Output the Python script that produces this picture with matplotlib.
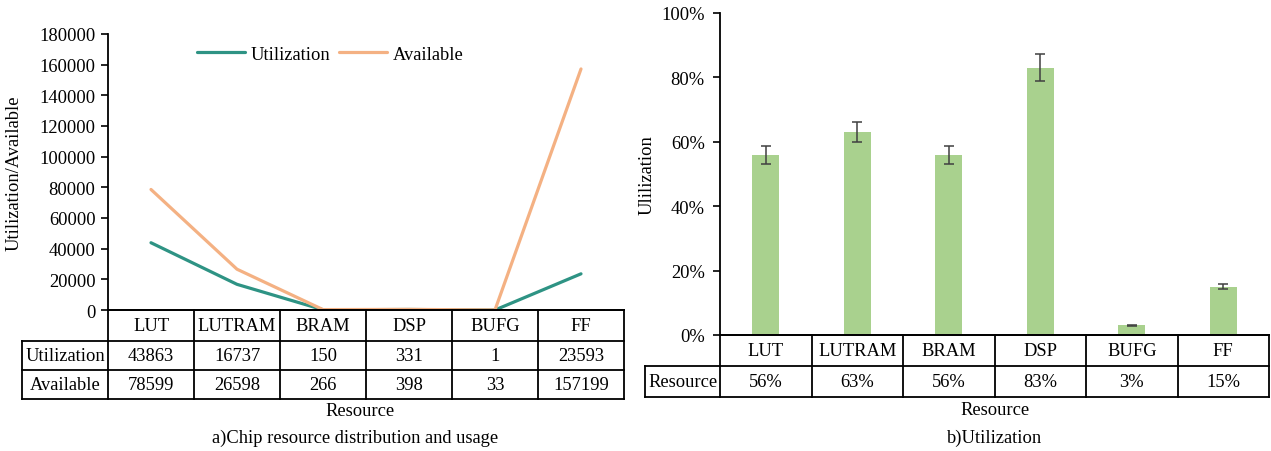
import matplotlib
matplotlib.use("Agg")
import matplotlib.pyplot as plt
from matplotlib.transforms import blended_transform_factory

plt.rcParams["font.family"] = ["Liberation Serif", "DejaVu Serif"]

# ---- data -------------------------------------------------------------
resources = ["LUT", "LUTRAM", "BRAM", "DSP", "BUFG", "FF"]
utilization = [43863, 16737, 150, 331, 1, 23593]
available = [78599, 26598, 266, 398, 33, 157199]
util_pct = [56, 63, 56, 83, 3, 15]
util_err = [2.8, 3.1, 2.8, 4.2, 0.2, 0.8]
left_yticks = [0, 20000, 40000, 60000, 80000, 100000, 120000, 140000, 160000, 180000]
right_yticks = [0, 20, 40, 60, 80, 100]

TEAL = "#2E9384"
ORANGE = "#F4B183"
GREEN = "#A9D18E"
FS = 13.3

W, H = 1271, 452
fig = plt.figure(figsize=(W / 100, H / 100), dpi=100)


def px_axes(x0, x1, ytop, ybot):
    return fig.add_axes([x0 / W, (H - ybot) / H, (x1 - x0) / W, (ybot - ytop) / H])


def draw_table(ax, ybot_px, ytop_px, rows_px, row_names, row_values, label_w):
    """Table under the axis: header row of categories, then data rows."""
    ax_h = ybot_px - ytop_px
    to_ax = lambda ypx: (ybot_px - ypx) / ax_h
    tr = blended_transform_factory(ax.transData, ax.transAxes)
    n = len(resources)
    kw = dict(transform=tr, clip_on=False, color="black", lw=1.3, solid_capstyle="projecting")
    y_ax = [to_ax(y) for y in rows_px]
    # horizontal rules
    ax.plot([-0.5, n - 0.5], [y_ax[0], y_ax[0]], **kw)
    for y in y_ax[1:]:
        ax.plot([-0.5 - label_w, n - 0.5], [y, y], **kw)
    # vertical rules
    for i in range(n + 1):
        ax.plot([-0.5 + i, -0.5 + i], [y_ax[0], y_ax[-1]], **kw)
    ax.plot([-0.5 - label_w, -0.5 - label_w], [y_ax[1], y_ax[-1]], **kw)
    # header text
    yc = (y_ax[0] + y_ax[1]) / 2
    for i, r in enumerate(resources):
        ax.text(i, yc, r, transform=tr, ha="center", va="center", fontsize=FS, clip_on=False)
    for k, (name, vals) in enumerate(zip(row_names, row_values)):
        yc = (y_ax[k + 1] + y_ax[k + 2]) / 2
        ax.text(-0.5 - label_w / 2, yc, name, transform=tr, ha="center", va="center",
                fontsize=FS, clip_on=False)
        for i, v in enumerate(vals):
            ax.text(i, yc, v, transform=tr, ha="center", va="center", fontsize=FS, clip_on=False)


# ---- left panel: line chart -------------------------------------------
axL = px_axes(108, 624, 35, 311)
x = list(range(len(resources)))
axL.plot(x, utilization, color=TEAL, lw=2.3, label="Utilization", solid_capstyle="round")
axL.plot(x, available, color=ORANGE, lw=2.3, label="Available", solid_capstyle="round")
axL.set_xlim(-0.5, len(resources) - 0.5)
axL.set_ylim(0, 180000)
axL.set_yticks(left_yticks)
axL.set_yticklabels([str(v) for v in left_yticks], fontsize=FS)
axL.set_xticks([])
for s in ["top", "right"]:
    axL.spines[s].set_visible(False)
axL.spines["left"].set_linewidth(1.3)
axL.spines["bottom"].set_linewidth(1.3)
axL.tick_params(axis="y", direction="out", length=5, width=1.2, pad=4)
axL.set_ylabel("Utilization/Available", fontsize=FS)
axL.yaxis.set_label_coords(-0.165, 0.5)
axL.legend(loc="center", bbox_to_anchor=(0.43, 0.927), ncol=2, frameon=False,
           fontsize=FS, handlelength=2.6, handletextpad=0.3, columnspacing=0.5)
draw_table(axL, 311, 35, [311, 342, 371, 400], ["Utilization", "Available"],
           [[str(v) for v in utilization], [str(v) for v in available]], 1.0)
fig.text(360 / W, 1 - 412 / H, "Resource", ha="center", va="center", fontsize=FS)
fig.text(355 / W, 1 - 438 / H, "a)Chip resource distribution and usage",
         ha="center", va="center", fontsize=FS)

# ---- right panel: bar chart -------------------------------------------
axR = px_axes(720, 1269, 14, 336)
axR.bar(x, util_pct, width=0.3, color=GREEN, zorder=2)
axR.errorbar(x, util_pct, yerr=util_err, fmt="none", ecolor="#404040",
             elinewidth=1.1, capsize=3.5, capthick=1.1, zorder=3)
axR.set_xlim(-0.5, len(resources) - 0.5)
axR.set_ylim(0, 100)
axR.set_yticks(right_yticks)
axR.set_yticklabels([f"{v}%" for v in right_yticks], fontsize=FS)
axR.set_xticks([])
for s in ["top", "right"]:
    axR.spines[s].set_visible(False)
axR.spines["left"].set_linewidth(1.3)
axR.spines["bottom"].set_linewidth(1.3)
axR.tick_params(axis="y", direction="out", length=5, width=1.2, pad=6)
axR.set_ylabel("Ulilization", fontsize=FS)
axR.yaxis.set_label_coords(-0.117, 0.5)
draw_table(axR, 336, 14, [336, 367, 398], ["Resource"],
           [[f"{v}%" for v in util_pct]], 75 / 91.5)
fig.text(995 / W, 1 - 411 / H, "Resource", ha="center", va="center", fontsize=FS)
fig.text(995 / W, 1 - 438 / H, "b)Utilization", ha="center", va="center", fontsize=FS)

fig.savefig("out.png", dpi=100)
